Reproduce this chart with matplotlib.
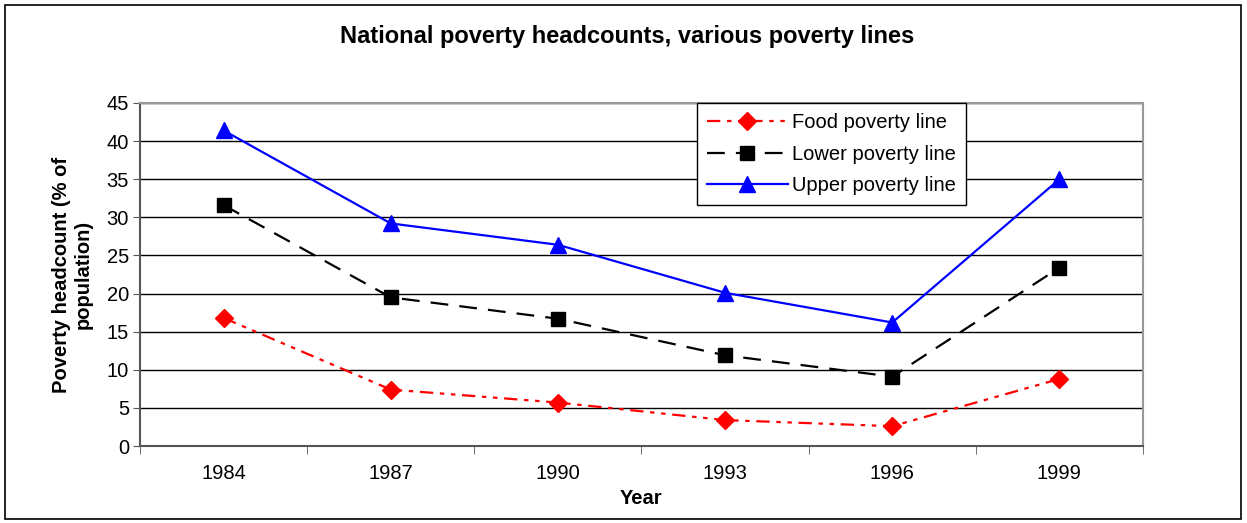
import matplotlib
matplotlib.use("Agg")
import matplotlib.pyplot as plt
from matplotlib.patches import Rectangle

years = ["1984", "1987", "1990", "1993", "1996", "1999"]
food = [16.8, 7.4, 5.7, 3.4, 2.6, 8.8]
lower = [31.6, 19.5, 16.7, 11.9, 9.1, 23.4]
upper = [41.4, 29.2, 26.4, 20.1, 16.2, 35.0]

plt.rcParams['font.family'] = ['Liberation Sans', 'DejaVu Sans']

fig = plt.figure(figsize=(12.47, 5.23), dpi=100)
ax = fig.add_axes([140/1247, 1-446/523, (1143-140)/1247, (446-103)/523])

x = list(range(len(years)))
ax.plot(x, food, color='red', linestyle=(0, (6, 3, 2, 3, 2, 3)), linewidth=1.6,
        marker='D', markersize=9, label='Food poverty line')
ax.plot(x, lower, color='black', linestyle=(0, (8, 5)), linewidth=1.6,
        marker='s', markersize=10, label='Lower poverty line')
ax.plot(x, upper, color='blue', linestyle='-', linewidth=1.6,
        marker='^', markersize=11, label='Upper poverty line')

ax.set_xlim(-0.5, len(years) - 0.5)
ax.set_ylim(0, 45)
ax.set_yticks(range(0, 46, 5))
ax.set_xticks(x)
ax.set_xticklabels(years)
ax.set_xticks([i - 0.5 for i in range(len(years) + 1)], minor=True)
ax.tick_params(axis='x', which='major', length=0, labelsize=14.5, pad=13)
ax.tick_params(axis='x', which='minor', length=6, direction='out', color='#555555')
ax.tick_params(axis='y', length=5, direction='out', labelsize=14.5, color='#555555', pad=3)
ax.grid(axis='y', color='black', linewidth=1)
ax.set_axisbelow(True)
for s in ['top', 'right']:
    ax.spines[s].set_color('#999999')
    ax.spines[s].set_linewidth(1.5)
for s in ['left', 'bottom']:
    ax.spines[s].set_color('#555555')
    ax.spines[s].set_linewidth(1.5)

ax.set_xlabel('Year', fontsize=14.5, fontweight='bold', labelpad=4)
ax.set_ylabel('Poverty headcount (% of\npopulation)', fontsize=14.5, fontweight='bold', labelpad=10)
fig.text(627/1247, 1-37/523, 'National poverty headcounts, various poverty lines',
         ha='center', va='center', fontsize=17, fontweight='bold')

leg = ax.legend(loc='upper left', bbox_to_anchor=((697-140)/(1143-140), 1.0),
                fontsize=14.5, frameon=True, fancybox=False, edgecolor='black',
                handlelength=4.0, borderpad=0.5, labelspacing=0.62, handletextpad=0.2,
                borderaxespad=0, framealpha=1)
leg.get_frame().set_linewidth(1.0)

fig.patches.append(Rectangle((5/1247, 1-519/523), 1236/1247, 514/523, transform=fig.transFigure,
                             fill=False, edgecolor='black', linewidth=1.2))

fig.savefig('out.png', dpi=100)
